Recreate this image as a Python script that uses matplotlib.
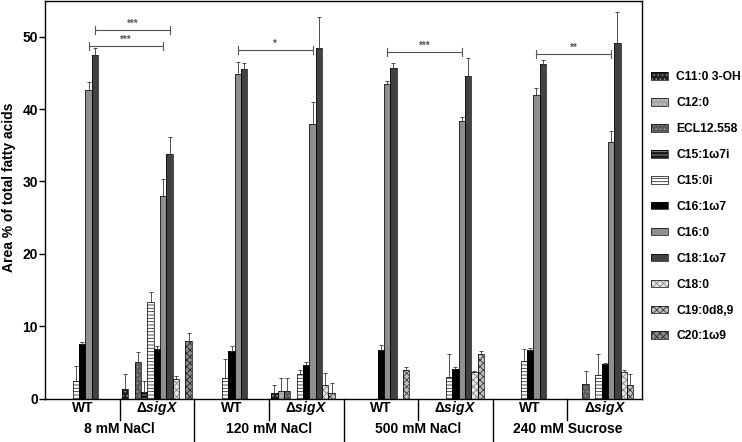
import matplotlib
matplotlib.use("Agg")
import matplotlib.pyplot as plt
import numpy as np

plt.rcParams["font.family"] = ["Liberation Sans", "DejaVu Sans"]
plt.rcParams["font.weight"] = "bold"
plt.rcParams["mathtext.fontset"] = "custom"
plt.rcParams["mathtext.rm"] = "Liberation Sans:bold"
plt.rcParams["mathtext.bfit"] = "Liberation Sans:italic:bold"
plt.rcParams["hatch.linewidth"] = 0.6

# conditions / strains (WT, dsigX for every condition)
conditions = ["8 mM NaCl", "120 mM NaCl", "500 mM NaCl", "240 mM Sucrose"]
strains = ["WT", r"$\mathrm{Δ}\mathbfit{sigX}$"]
fatty_acids = ["C11:0 3-OH", "C12:0", "ECL12.558", "C15:1ω7i", "C15:0i", "C16:1ω7",
               "C16:0", "C18:1ω7", "C18:0", "C19:0d8,9", "C20:1ω9"]

# mean area % per sample: 8WT, 8d, 120WT, 120d, 500WT, 500d, 240WT, 240d
c11_0_3oh = [0, 1.3, 0, 0.7, 0, 0, 0, 0]
c12_0 = [0, 0, 0, 1.0, 0, 0, 0, 0]
ecl12_558 = [0, 5.0, 0, 1.0, 0, 0, 0, 2.0]
c15_1w7i = [0, 0.85, 0, 0, 0, 0, 0, 0]
c15_0i = [2.4, 13.4, 2.9, 3.4, 0, 3.0, 5.2, 3.2]
c16_1w7 = [7.5, 6.9, 6.6, 4.6, 6.7, 4.1, 6.7, 4.7]
c16_0 = [42.7, 28.0, 44.9, 38.0, 43.4, 38.3, 41.9, 35.4]
c18_1w7 = [47.4, 33.8, 45.5, 48.5, 45.7, 44.6, 46.2, 49.1]
c18_0 = [0, 2.7, 0, 1.8, 0, 3.7, 0, 3.6]
c19_0d89 = [0, 0, 0, 0.7, 4.0, 6.2, 0, 1.9]
c20_1w9 = [0, 8.0, 0, 0, 0, 0, 0, 0]

# upper error (SD)
c11_0_3oh_err = [0, 2.1, 0, 1.2, 0, 0, 0, 0]
c12_0_err = [0, 0, 0, 1.9, 0, 0, 0, 0]
ecl12_558_err = [0, 1.4, 0, 1.8, 0, 0, 0, 1.8]
c15_1w7i_err = [0, 1.6, 0, 0, 0, 0, 0, 0]
c15_0i_err = [2.1, 1.3, 2.6, 0.55, 0, 3.2, 1.6, 2.9]
c16_1w7_err = [0.35, 0.4, 0.7, 0.4, 0.65, 0.2, 0.25, 0.15]
c16_0_err = [1.1, 2.3, 1.6, 3.0, 0.5, 0.6, 1.0, 1.5]
c18_1w7_err = [1.0, 2.3, 0.8, 4.2, 0.7, 2.5, 0.6, 4.3]
c18_0_err = [0, 0.4, 0, 1.7, 0, 0.1, 0, 0.4]
c19_0d89_err = [0, 0, 0, 1.4, 0.4, 0.4, 0, 1.5]
c20_1w9_err = [0, 1.0, 0, 0, 0, 0, 0, 0]

means = [c11_0_3oh, c12_0, ecl12_558, c15_1w7i, c15_0i, c16_1w7,
         c16_0, c18_1w7, c18_0, c19_0d89, c20_1w9]
errs = [c11_0_3oh_err, c12_0_err, ecl12_558_err, c15_1w7i_err, c15_0i_err, c16_1w7_err,
        c16_0_err, c18_1w7_err, c18_0_err, c19_0d89_err, c20_1w9_err]

# significance brackets (condition, fatty acid index, label, height)
sig_conditions = [0, 0, 1, 2, 3]
sig_acids = [7, 6, 6, 6, 6]
sig_labels = ["***", "***", "*", "***", "**"]
sig_levels = [50.9, 48.7, 48.2, 47.9, 47.6]

# face colour, hatch colour, hatch
styles = [
    ("#1e1e1e", "#9a9a9a", "...."),
    ("#a6a6a6", "#d0d0d0", "...."),
    ("#5a5a5a", "#9a9a9a", "...."),
    ("#151515", "#9a9a9a", "-----"),
    ("#ffffff", "#333333", "-----"),
    ("#000000", "#000000", None),
    ("#8f8f8f", "#8f8f8f", None),
    ("#424242", "#424242", None),
    ("#e6e6e6", "#8a8a8a", "xxxxx"),
    ("#c0c0c0", "#3a3a3a", "xxxxx"),
    ("#8a8a8a", "#2a2a2a", "xxxxx"),
]

fig = plt.figure(figsize=(7.42, 4.42), dpi=100)
ax = fig.add_axes([45 / 742, 43.5 / 442, 597 / 742, 398 / 442])

n_fa = len(fatty_acids)
n_samples = len(conditions) * len(strains)
width = 0.085
offset = (1 - n_fa * width) / 2
x0 = np.arange(n_samples)

handles = []
for j in range(n_fa):
    x = x0 + offset + (j + 0.5) * width
    m = np.array(means[j], dtype=float)
    e = np.array(errs[j], dtype=float)
    show = m > 0
    fc, hc, hatch = styles[j]
    b1 = ax.bar(x[show], m[show], width, color=fc, edgecolor=hc, hatch=hatch,
                linewidth=0, zorder=2)
    b2 = ax.bar(x[show], m[show], width, fill=False, edgecolor="black",
                linewidth=0.5, zorder=3)
    ax.errorbar(x[show], m[show], yerr=[np.zeros(show.sum()), e[show]], fmt="none",
                ecolor="#333333", elinewidth=0.6, capsize=1.2, capthick=0.6, zorder=4)
    handles.append((b1[0], b2[0]))

# significance brackets
for cond, acid, label, level in zip(sig_conditions, sig_acids, sig_labels, sig_levels):
    xa = 2 * cond + offset + (acid + 0.5) * width
    xb = xa + 1
    ax.plot([xa, xb], [level, level], color="#555555", lw=0.8, zorder=5)
    for xe in (xa, xb):
        ax.plot([xe, xe], [level - 0.55, level + 0.55], color="#555555", lw=0.8, zorder=5)
    ax.text((xa + xb) / 2, level + 0.15, label, ha="center", va="bottom",
            fontsize=7, color="#555555")

ax.set_xlim(0, n_samples)
ax.set_ylim(0, 55)
ax.set_yticks([0, 10, 20, 30, 40, 50])
ax.tick_params(axis="y", labelsize=10, length=4, width=1, pad=1)
ax.set_xticks([])
for s in ax.spines.values():
    s.set_linewidth(1)
ax.set_ylabel("Area % of total fatty acids", fontsize=10, fontweight="bold")
ax.yaxis.set_label_coords(-0.048, 0.53)

# x-axis labels and separators
tr = ax.get_xaxis_transform()
for i in range(n_samples):
    ax.text(i + 0.5, -0.024, strains[i % 2], transform=tr, ha="center", va="center",
            fontsize=10, fontweight="bold")
    if i > 0:
        bottom = -0.11 if i % 2 == 0 else -0.054
        ax.plot([i, i], [0, bottom], transform=tr, color="black", lw=1, clip_on=False)
for c, name in enumerate(conditions):
    ax.text(2 * c + 1, -0.077, name, transform=tr, ha="center", va="center",
            fontsize=10, fontweight="bold")

leg = ax.legend(handles, fatty_acids, loc="upper left",
                bbox_to_anchor=(651 / 742, 1 - 71.5 / 442), bbox_transform=fig.transFigure,
                frameon=False, fontsize=8.7, borderpad=0, borderaxespad=0,
                handlelength=1.4, handleheight=0.58, handletextpad=0.7, labelspacing=1.15)

fig.savefig("out.png", dpi=100)
